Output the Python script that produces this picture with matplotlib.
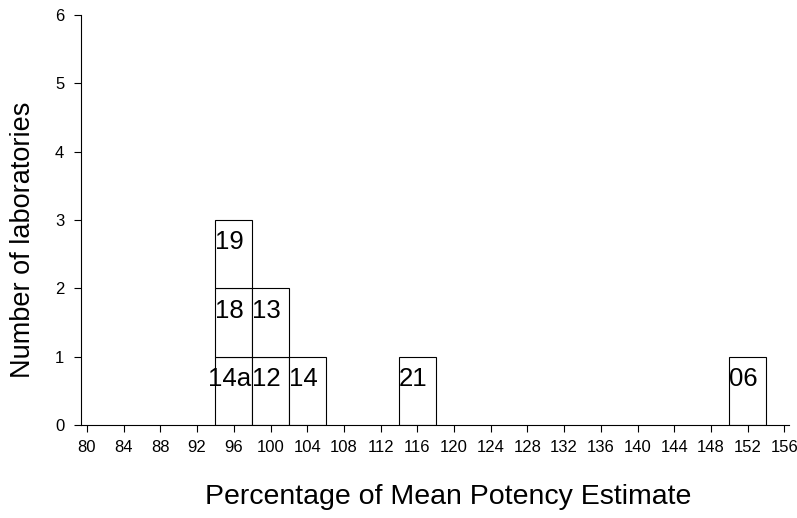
import matplotlib
matplotlib.use("Agg")
import matplotlib.pyplot as plt
from matplotlib.patches import Rectangle

plt.rcParams['font.family'] = ['Liberation Sans', 'DejaVu Sans']

# lab codes and their percentage-of-mean bins (bottom to top within a bin)
labs = ['14a', '18', '19', '12', '13', '14', '21', '06']
bin_lo = [94, 94, 94, 98, 98, 102, 114, 150]
bin_width = 4
x_ticks = list(range(80, 157, 4))
y_ticks = list(range(0, 7))

fig = plt.figure(figsize=(7.97, 5.18), dpi=100)
ax = fig.add_axes([81/797, 1-425/518, (789-81)/797, (425-15)/518])

stack = {}
for lab, lo in zip(labs, bin_lo):
    lvl = stack.get(lo, 0)
    ax.add_patch(Rectangle((lo, lvl), bin_width, 1, facecolor='white',
                           edgecolor='black', lw=0.8))
    ax.text(lo + bin_width/2 - 0.45, lvl + 0.57, lab, ha='center',
            va='baseline', fontsize=18.5)
    stack[lo] = lvl + 1

ax.set_xlim(79.35, 156.5)
ax.set_ylim(0, 6)
ax.set_xticks(x_ticks)
ax.set_yticks(y_ticks)
ax.tick_params(labelsize=12, length=5, width=0.8)
ax.tick_params(axis='y', pad=7)
ax.tick_params(axis='x', pad=6)
ax.spines['top'].set_visible(False)
ax.spines['right'].set_visible(False)
for s in ('left', 'bottom'):
    ax.spines[s].set_linewidth(0.8)

fig.text(448/797, 1-504/518, 'Percentage of Mean Potency Estimate',
         ha='center', va='baseline', fontsize=20.5)
fig.text(23/797, 1-240/518, 'Number of laboratories', rotation=90,
         ha='center', va='center', fontsize=19.5)

fig.savefig('out.png', dpi=100)
